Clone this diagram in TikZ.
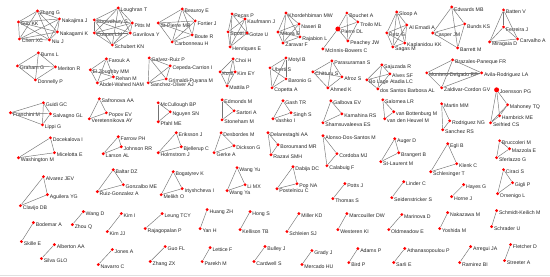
\documentclass[tikz,border=0pt]{standalone}
\usepackage{fontspec}
\setmainfont{Liberation Sans}
\usepackage{tikz}
\usetikzlibrary{positioning}

\newcommand\kn[1]{%
  \edef\knlist{#1}%
  \foreach \a [count=\i] in \knlist {%
    \foreach \b [count=\j] in \knlist {%
      \ifnum\i<\j \draw[edge] (\a) -- (\b);\fi}}}

\begin{document}
\begin{tikzpicture}[x=1pt,y=-1pt,
  au/.style={circle,fill=red,inner sep=0pt,minimum size=3.2pt},
  big/.style={au,minimum size=5pt},
  lab/.style={font=\fontsize{5.2}{6}\selectfont,text=black!85,inner sep=0.4pt,yshift=-2.2pt},
  edge/.style={draw=black!55,line width=0.45pt}]
  \path[fill=white] (0,0) rectangle (550,277);
  \draw[black!12,line width=1pt] (0,275.5) -- (550,275.5);

  % row 1
  \foreach \n/\p/\t in {zhangg/{37,11}/Zhang G, sun/{18,22}/Sun KK, nakajima/{59,19}/Nakajima J,
      nakagami/{57,32}/Nakagami K, chen/{19,39}/Chen XC, niu/{49,40}/Niu J,
      loughran/{118,8}/Loughran T, chowd/{94,20}/Chowdhury S, pitts/{132,23}/Pitts M,
      cooper/{94,33}/Cooper LM, gavrilova/{130,33}/Gavrilova Y, schubert/{112,45}/Schubert KN,
      beauroy/{182,9}/Beauroy E, fortier/{195,21}/Fortier J, stpierre/{158,23}/St-Pierre MR,
      boute/{192,35}/Boute R, carbonneau/{172,42}/Carbonneau H,
      pecas/{232,14}/Pecas P, kaufmann/{245,19}/Kaufmann J, spottl/{228,32}/Spottl G,
      gotze/{247,33}/Gotze U, henriques/{230,47}/Henriques E,
      khord/{286,13}/Khordehbiman MW, naseri/{299,24}/Naseri B, mitrea/{278,32}/Mitrea E,
      rajabion/{300,37}/Rajabion L, zaravar/{283,43}/Zaravar F,
      bouchet/{347,13}/Bouchet A, troilo/{358,22}/Troilo ML, peachey/{348,41}/Peachey JW,
      mcinnis/{323,49}/McInnis-Bowers C,
      sloop/{397,12}/Sloop A, petz/{387,33}/Petz G, sagas/{393,47}/Sagas M,
      alemadi/{407,25}/Al Emadi A, kaplan/{405,43}/Kaplanidou KK,
      edwards/{452,7}/Edwards MB, bunds/{465,24}/Bunds KS, casper/{433,33}/Casper JM,
      barrett/{458,48}/Barrett M,
      batten/{504,10}/Batten V, ferreira/{504,27}/Ferreira J, miragaia/{490,42}/Miragaia D,
      carvalho/{518,39}/Carvalho A}
    \node[au,label={[lab]right:\t}] (\n) at (\p) {};
  \node[big,label={[lab]right:Pierre DL}] (pierre) at (338,29) {};

  % row 2
  \foreach \n/\p/\t in {burns/{38,53}/Burns L, graham/{17,66}/Graham G, meriton/{55,67}/Meriton R,
      donnelly/{35,80}/Donnelly P,
      farouk/{106,59}/Farouk A, zoughby/{90,70}/El Zoughby MM, rehan/{113,77}/Rehan M,
      abdel/{97,83}/Abdel-Wahed NAM,
      galvez/{149,58}/Galvez-Ruiz P, cepeda/{170,66}/Cepeda-Carrion I,
      grimaldi/{166,79}/Grimaldi-Puyana M, sanchezo/{148,83}/Sanchez-Oliver AJ,
      choi/{233,59}/Choi H, ko/{220,72}/Ko E, kimey/{235,72}/Kim EY, mattila/{227,86}/Mattila P,
      motyl/{286,58}/Motyl B, uberti/{270,68}/Uberti S, baronio/{286,79}/Baronio G,
      copetta/{272,88}/Copetta A,
      parasu/{332,61}/Parasuraman S, chitturu/{313,72}/Chitturu S, afroz/{342,77}/Afroz S,
      ahmed/{328,88}/Ahmed K,
      sajuzada/{382,65}/Sajuzada R, alves/{390,74}/Alves SF, atadia/{367,80}/Bo Lage Atadia LC,
      barbosa/{378,89}/dos Santos Barbosa AL,
      brazales/{453,60}/Brazales-Paneque FR, avila/{482,73}/Avila-Rodriguez LA,
      montero/{427,73}/Montero-Delgado RF, zaldivar/{442,88}/Zaldivar-Cordon GV,
      mahoney/{508,105}/Mahoney TQ, hambrick/{500,116}/Hambrick ME, seifried/{491,123}/Seifried CS}
    \node[au,label={[lab]right:\t}] (\n) at (\p) {};
  \node[big,label={[lab]right:Joensson PG}] (joensson) at (497,90) {};

  % row 3
  \foreach \n/\p/\t in {guidi/{43,103}/Guidi GC, franchini/{10,113}/Franchini M,
      salvagno/{50,114}/Salvagno GL, lippi/{42,125}/Lippi G,
      safronova/{99,99}/Safronova AA, popov/{106,113}/Popov EV, veret/{89,119}/Veretennikova AY,
      mccullough/{158,103}/McCullough BP, nguyen/{170,112}/Nguyen SN, pfahl/{158,122}/Pfahl ME,
      edmonds/{222,100}/Edmonds M, sartori/{234,111}/Sartori A, stoneham/{222,120}/Stoneham M,
      gash/{283,101}/Gash TR, singh/{291,113}/Singh S, vashko/{273,119}/Vashko I,
      galbova/{331,101}/Galbova EV, kamahina/{342,114}/Kamahina RS,
      shams/{323,123}/Shamsuvaleeva ES,
      salomea/{383,100}/Salomea LR, bottenburg/{394,112}/van Bottenburg M,
      heuvel/{385,119}/van den Heuvel M,
      martin/{442,104}/Martin MM, rodriguezn/{450,121}/Rodriguez NG, sanchezr/{443,130}/Sanchez RS}
    \node[au,label={[lab]right:\t}] (\n) at (\p) {};

  % row 4
  \foreach \n/\p/\t in {docek/{50,138}/Docekalova I, micel/{54,153}/Micelotta E,
      washington/{18,158}/Washington M,
      farrow/{118,137}/Farrow PH, johnson/{121,147}/Johnson RR, larson/{103,154}/Larson AL,
      eriksson/{176,133}/Eriksson J, bjellerup/{181,147}/Bjellerup C, holm/{158,153}/Holmstrom J,
      desbordes/{221,133}/Desbordes M, dickson/{234,146}/Dickson G, gerke/{214,153}/Gerke A,
      delar/{268,133}/Delarestaghi AA, boroumand/{278,145}/Boroumand MR, razavi/{271,155}/Razavi SMH,
      alonso/{323,136}/Alonso-Dos-Santos M, cordoba/{337,154}/Cordoba MJ,
      calabuig/{327,166}/Calabuig F,
      auger/{395,139}/Auger D, brangert/{399,153}/Brangert B, stlaurent/{381,162}/St-Laurent M,
      egli/{448,144}/Egli B, klenk/{457,164}/Klenk C, schles/{431,172}/Schlesinger T,
      brucc/{500,141}/Bruccoleri M, mazzola/{510,149}/Mazzola E, sferl/{497,158}/Sferlazzo G}
    \node[au,label={[lab]right:\t}] (\n) at (\p) {};

  % row 5
  \foreach \n/\p/\t in {alvarez/{43,177}/Alvarez JEV, aguilera/{47,195}/Aguilera YG,
      clavijo/{20,206}/Clavijo DB,
      baltar/{113,170}/Baltar DZ, gonzalbo/{123,185}/Gonzalbo ME, ruiz/{97,192}/Ruiz-Gonzalez A,
      bogat/{173,172}/Bogatyrev K, irty/{182,189}/Irtyshcheva I, melikh/{161,195}/Melikh O,
      wangyu/{237,168}/Wang Yu, limx/{245,185}/Li MX, wangya/{227,191}/Wang Ya,
      dabija/{293,167}/Dabija DC, pop/{297,184}/Pop NA, postel/{277,189}/Postelnicu C,
      potts/{345,184}/Potts J, thomas/{333,199}/Thomas S,
      linder/{404,182}/Linder C, seiden/{392,198}/Seidenstricker S,
      hayes/{464,185}/Hayes G, horne/{452,197}/Horne J,
      ciraci/{504,170}/Ciraci S, gigli/{513,183}/Gigli P, orsenigo/{498,194}/Orsenigo L}
    \node[au,label={[lab]right:\t}] (\n) at (\p) {};

  % pairs
  \foreach \n/\p/\t in {wangd/{83,212}/Wang D, zhou/{72,225}/Zhou Q,
      kimi/{121,214}/Kim I, kimjj/{107,232}/Kim JJ,
      bodemar/{33,223}/Bodemar A, skille/{21,242}/Skille E,
      leung/{162,214}/Leung TCY, raja/{145,229}/Rajagopalan P,
      huang/{207,210}/Huang ZH, yan/{200,229}/Yan H,
      hong/{250,212}/Hong S, kellison/{240,230}/Kellison TB,
      miller/{299,214}/Miller KD, schleien/{287,232}/Schleien SJ,
      marc/{347,214}/Marcouiller DW, westeren/{338,230}/Westeren KI,
      marinova/{402,215}/Marinova D, oldmeadow/{389,230}/Oldmeadow E,
      nakazawa/{448,213}/Nakazawa M, yoshida/{440,229}/Yoshida M,
      schmidt/{497,211}/Schmidt-Keilich M, schrader/{492,227}/Schrader U,
      alberton/{54,245}/Alberton AA, silva/{41,259}/Silva GLO,
      jones/{112,250}/Jones A, navarro/{98,265}/Navarro C,
      guo/{165,247}/Guo FL, zhangzx/{150,262}/Zhang ZX,
      lettice/{210,248}/Lettice F, parekh/{202,262}/Parekh M,
      bulley/{265,247}/Bulley J, cardwell/{254,262}/Cardwell S,
      grady/{312,251}/Grady J, mercado/{302,265}/Mercado HU,
      adams/{358,249}/Adams P, bird/{349,263}/Bird P,
      athan/{405,249}/Athanasopoulou P, sarli/{394,263}/Sarli E,
      arregui/{471,247}/Arregui JA, ramirez/{460,263}/Ramirez BI,
      fletcher/{511,245}/Fletcher D, streeter/{505,261}/Streeter A}
    \node[au,label={[lab]right:\t}] (\n) at (\p) {};

  \kn{zhangg,sun,nakajima,nakagami,chen,niu}
  \kn{loughran,chowd,pitts,cooper,gavrilova,schubert}
  \kn{beauroy,fortier,stpierre,boute,carbonneau}
  \kn{pecas,kaufmann,spottl,gotze,henriques}
  \kn{khord,naseri,mitrea,rajabion,zaravar}
  \kn{bouchet,troilo,pierre,peachey}
  \draw[edge] (pierre) -- (mcinnis);
  \kn{sloop,petz,sagas,alemadi,kaplan}
  \kn{edwards,bunds,casper,barrett}
  \kn{batten,ferreira,miragaia,carvalho}
  \kn{burns,graham,meriton,donnelly}
  \kn{farouk,zoughby,rehan,abdel}
  \kn{galvez,cepeda,grimaldi,sanchezo}
  \kn{choi,ko,kimey,mattila}
  \kn{motyl,uberti,baronio,copetta}
  \kn{parasu,chitturu,afroz,ahmed}
  \kn{sajuzada,alves,atadia,barbosa}
  \kn{brazales,avila,montero,zaldivar}
  \kn{joensson,mahoney,hambrick,seifried}
  \kn{guidi,franchini,salvagno,lippi}
  \foreach \g in {{safronova,popov,veret},{mccullough,nguyen,pfahl},{edmonds,sartori,stoneham},
      {gash,singh,vashko},{galbova,kamahina,shams},{salomea,bottenburg,heuvel},
      {martin,rodriguezn,sanchezr},{docek,micel,washington},{farrow,johnson,larson},
      {eriksson,bjellerup,holm},{desbordes,dickson,gerke},{delar,boroumand,razavi},
      {alonso,cordoba,calabuig},{auger,brangert,stlaurent},{egli,klenk,schles},
      {brucc,mazzola,sferl},{alvarez,aguilera,clavijo},{baltar,gonzalbo,ruiz},
      {bogat,irty,melikh},{wangyu,limx,wangya},{dabija,pop,postel},{ciraci,gigli,orsenigo}}
    \kn\g;
  \foreach \a/\b in {potts/thomas,linder/seiden,hayes/horne,wangd/zhou,kimi/kimjj,
      bodemar/skille,leung/raja,huang/yan,hong/kellison,miller/schleien,marc/westeren,
      marinova/oldmeadow,nakazawa/yoshida,schmidt/schrader,alberton/silva,jones/navarro,
      guo/zhangzx,lettice/parekh,bulley/cardwell,grady/mercado,adams/bird,athan/sarli,
      arregui/ramirez,fletcher/streeter}
    \draw[edge] (\a) -- (\b);
\end{tikzpicture}
\end{document}
